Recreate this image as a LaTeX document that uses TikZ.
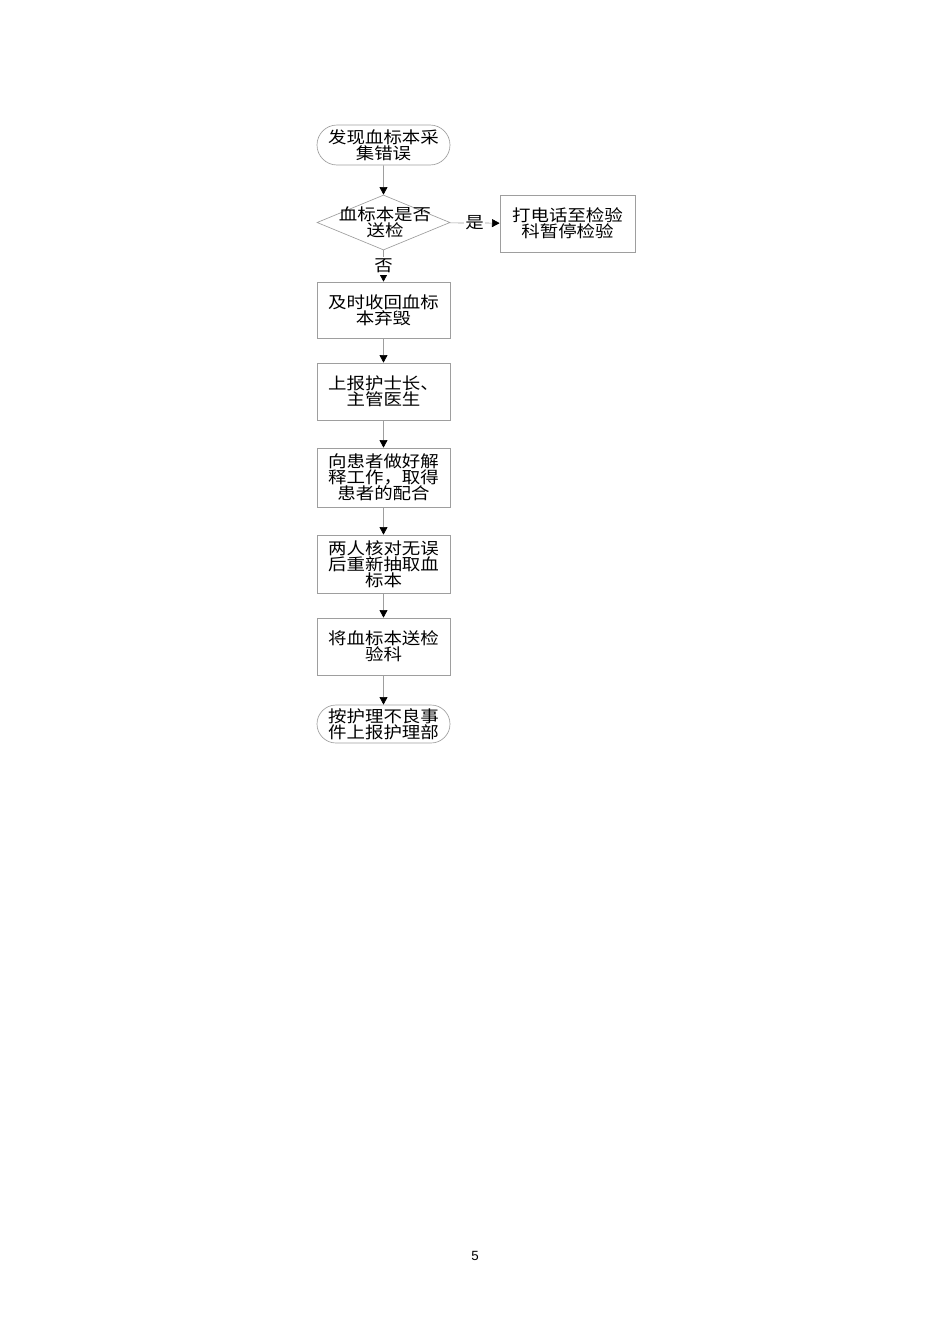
\documentclass[tikz,border=0pt]{standalone}
\usepackage{fontspec}
\setmainfont{Liberation Sans}
\newfontfamily\cjk[FakeStretch=1.13]{Noto Sans CJK SC}
\usetikzlibrary{arrows.meta, shapes.geometric, shapes.misc, positioning}
\definecolor{linegray}{gray}{0.62}

\begin{document}
\begin{tikzpicture}[x=0.6pt, y=-0.6pt,
    cjktext/.style={font=\cjk\fontsize{9.8}{9.6}\selectfont, align=center},
    box/.style={draw=linegray, rectangle, cjktext, minimum width=79.8pt, minimum height=34.2pt, inner sep=0pt},
    term/.style={box, rounded rectangle, minimum height=24pt},
    decision/.style={draw=linegray, diamond, minimum width=79.8pt, minimum height=33pt, inner sep=0pt},
    flow/.style={draw=linegray, -{Triangle[color=black, length=4.6pt, width=4.8pt]}},
    answer/.style={cjktext, fill=white, inner sep=1pt}]
      \useasboundingbox (0, 0) rectangle (950, 1344);

      \node[term] (start) at (383.5, 145) {发现血标本采\\集错误};
      \node[decision] (check) at (383.5, 222.5) {};
      \node[cjktext] (checktext) at (385, 222) {血标本是否\\送检};
      \node[box, minimum width=81pt] (call) at (567.5, 223.5) {打电话至检验\\科暂停检验};
      \node[box, minimum height=33.6pt] (recover) at (383.5, 310) {及时收回血标\\本弃毁};
      \node[box] (report) at (383.5, 391.5) {上报护士长、\\主管医生};
      \node[box, minimum height=35.4pt] (explain) at (383.5, 477.5) {向患者做好解\\释工作，取得\\患者的配合};
      \node[box, minimum height=34.8pt] (redraw) at (383.5, 564) {两人核对无误\\后重新抽取血\\标本};
      \node[box] (send) at (383.5, 646.5) {将血标本送检\\验科};
      \node[term, minimum height=22.8pt] (finish) at (383.5, 724) {按护理不良事\\件上报护理部};

      \draw[flow] (start) -- (check);
      \draw[flow] (check) -- node[answer] (yes) {是} (call);
      \draw[flow] (check) -- node[answer] (no) {否} (recover);
      \draw[flow] (recover) -- (report);
      \draw[flow] (report) -- (explain);
      \draw[flow] (explain) -- (redraw);
      \draw[flow] (redraw) -- (send);
      \draw[flow] (send) -- (finish);

      \node[font=\fontsize{8}{9.6}\selectfont] (pagenum) at (475, 1256) {5};

    \end{tikzpicture}
\end{document}
